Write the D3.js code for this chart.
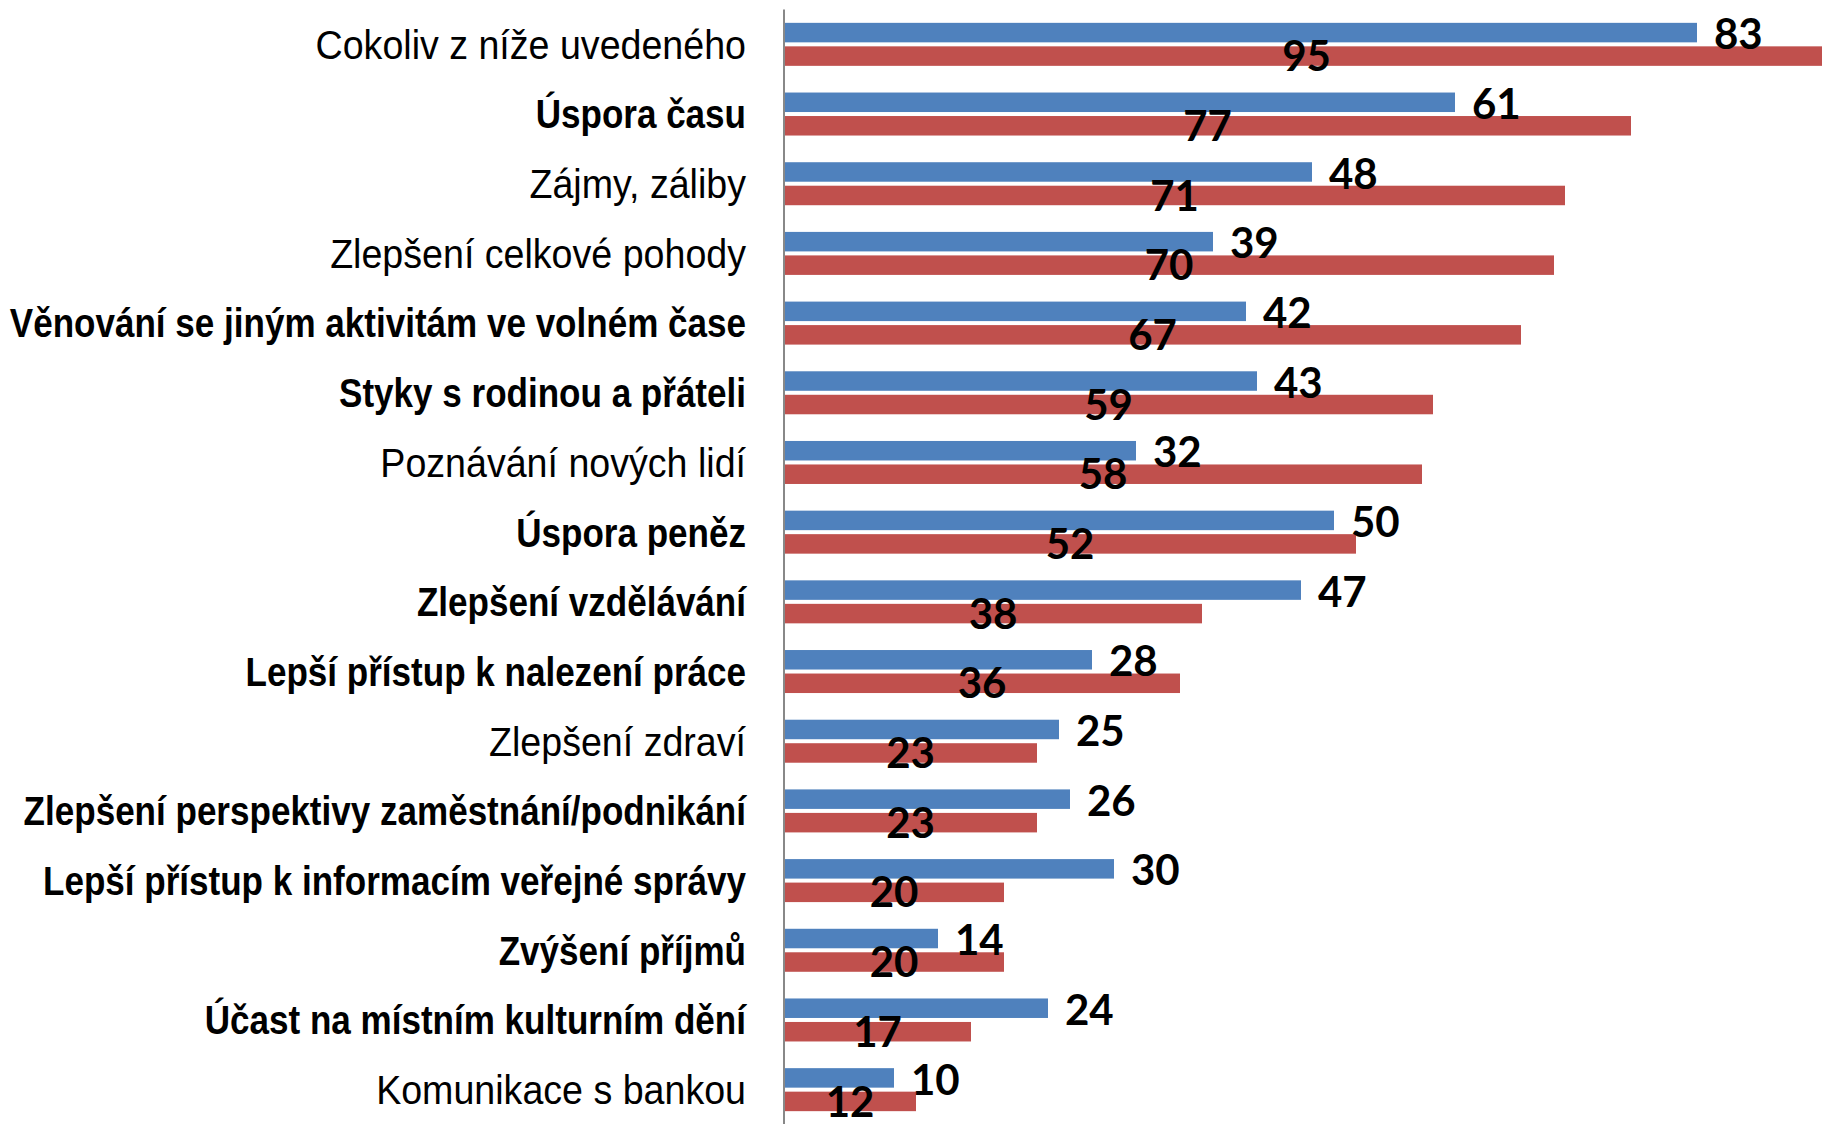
<!DOCTYPE html>
<html>
<head>
<meta charset="utf-8">
<script src="https://cdn.jsdelivr.net/npm/d3@7"></script>
<style>
  html, body { margin: 0; padding: 0; background: #fff; }
  svg { display: block; }
  .cat { font-family: "Liberation Sans", Arial, sans-serif; font-size: 41px; fill: #000; }
  .val { font-family: Lato, "Open Sans", sans-serif; font-weight: 700; font-size: 42px; fill: #000; }
</style>
</head>
<body>
<svg id="chart" width="1822" height="1124"></svg>
<script>
// Categories, top to bottom; "bold" marks the labels set in bold type.
const categories = [
  "Cokoliv z níže uvedeného",
  "Úspora času",
  "Zájmy, záliby",
  "Zlepšení celkové pohody",
  "Věnování se jiným aktivitám ve volném čase",
  "Styky s rodinou a přáteli",
  "Poznávání nových lidí",
  "Úspora peněz",
  "Zlepšení vzdělávání",
  "Lepší přístup k nalezení práce",
  "Zlepšení zdraví",
  "Zlepšení perspektivy zaměstnání/podnikání",
  "Lepší přístup k informacím veřejné správy",
  "Zvýšení příjmů",
  "Účast na místním kulturním dění",
  "Komunikace s bankou"
];
const bold = [false, true, false, false, true, true, false, true, true, true, false, true, true, true, true, false];

// Two series (blue first, red second), in percent.
const blueValues = [83, 61, 48, 39, 42, 43, 32, 50, 47, 28, 25, 26, 30, 14, 24, 10];
const redValues  = [95, 77, 71, 70, 67, 59, 58, 52, 38, 36, 23, 23, 20, 20, 17, 12];

const BLUE = "#4F81BD";
const RED = "#C0504D";

const svg = d3.select("#chart");
const W = 1822, H = 1124;
const x0 = 784;

const x = d3.scaleLinear().domain([0, 100]).range([x0, x0 + 1100]);
const y = d3.scaleBand().domain(categories).range([9.5, 1124.5]).paddingInner(0).paddingOuter(0);

const barH = 19.5;
const gap = 2;

const rows = categories.map((c, i) => ({ c, i, blue: blueValues[i], red: redValues[i], bold: bold[i] }));

const g = svg.append("g");

// Bars
g.selectAll("rect.blue").data(rows).join("rect")
  .attr("class", "blue")
  .attr("x", x(0))
  .attr("y", d => y(d.c) + y.bandwidth() / 2 - gap - barH)
  .attr("width", d => x(d.blue) - x(0))
  .attr("height", barH)
  .attr("fill", BLUE);

g.selectAll("rect.red").data(rows).join("rect")
  .attr("class", "red")
  .attr("x", x(0))
  .attr("y", d => y(d.c) + y.bandwidth() / 2 + gap)
  .attr("width", d => x(d.red) - x(0))
  .attr("height", barH)
  .attr("fill", RED);

// Category axis line
svg.append("line")
  .attr("x1", x0).attr("x2", x0)
  .attr("y1", 9.5).attr("y2", H)
  .attr("stroke", "#888").attr("stroke-width", 2);

// Category labels, horizontally condensed
g.selectAll("text.cat").data(rows).join("text")
  .attr("class", "cat")
  .attr("transform", d => `translate(746,${y(d.c) + y.bandwidth() / 2}) scale(${d.bold ? 0.855 : 0.917},1)`)
  .attr("dy", "0.35em")
  .attr("text-anchor", "end")
  .attr("font-weight", d => d.bold ? 700 : 400)
  .text(d => d.c);

// Value labels: blue outside the bar end, red centred on its bar
g.selectAll("text.vb").data(rows).join("text")
  .attr("class", "val vb")
  .attr("x", d => x(d.blue) + 17)
  .attr("y", d => y(d.c) + y.bandwidth() / 2 - gap - barH / 2 + 1.5)
  .attr("dy", "0.36em")
  .text(d => d.blue);

g.selectAll("text.vr").data(rows).join("text")
  .attr("class", "val vr")
  .attr("x", d => (x(0) + x(d.red)) / 2)
  .attr("y", d => y(d.c) + y.bandwidth() / 2 + gap + barH / 2)
  .attr("dy", "0.36em")
  .attr("text-anchor", "middle")
  .text(d => d.red);
</script>
</body>
</html>
